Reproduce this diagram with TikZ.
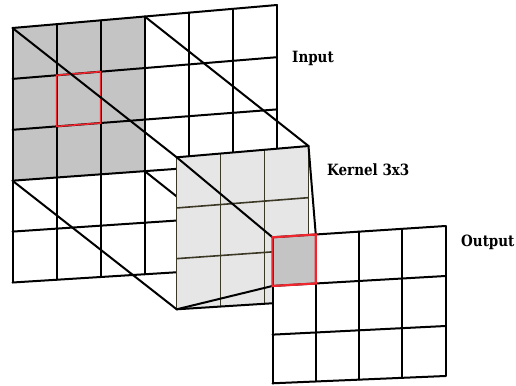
\documentclass[tikz,border=0pt]{standalone}
\usepackage{fontspec}
\newfontfamily\lblfont[FakeStretch=0.87]{DejaVu Serif}
\usetikzlibrary{calc}
\definecolor{windowgray}{HTML}{C4C4C4}
\definecolor{kernelfill}{HTML}{E6E6E6}
\definecolor{kernelline}{HTML}{3C3826}
\definecolor{cellred}{HTML}{F0262E}
\begin{document}
\begin{tikzpicture}[x=1pt,y=-1pt,
  gridline/.style={line width=2pt, draw=black, line cap=round},
  kline/.style={line width=1.2pt, draw=kernelline},
  proj/.style={line width=2pt, draw=black, line cap=round},
  redcell/.style={draw=cellred, line join=miter},
  lbl/.style={font=\lblfont\bfseries\fontsize{15.5}{15.5}\selectfont, anchor=base west, inner sep=0pt}]

\fill[white] (0,0) rectangle (516,385);
\useasboundingbox (0,0) rectangle (516,385);

% corner points of the three grids (slight perspective)
\coordinate (inTL) at (12.5,28);
\coordinate (inTR) at (277,5);
\coordinate (inBL) at (12.5,282.5);
\coordinate (inBR) at (277,266);

\coordinate (kTL) at (176.7,157.3);
\coordinate (kTR) at (308.5,146);
\coordinate (kBL) at (176.7,309.3);
\coordinate (kBR) at (308.5,301);

\coordinate (oTL) at (272.5,237.3);
\coordinate (oTR) at (445.5,226);
\coordinate (oBL) at (272.5,383.3);
\coordinate (oBR) at (445.5,376);

% lattice points: in-i-j (6x5), k-i-j (3x3), o-i-j (4x3)
\foreach \i in {0,...,6} {
  \coordinate (inT\i) at ($(inTL)!\i/6!(inTR)$);
  \coordinate (inB\i) at ($(inBL)!\i/6!(inBR)$);
  \foreach \j in {0,...,5} \coordinate (in-\i-\j) at ($(inT\i)!\j/5!(inB\i)$);
}
\foreach \i in {0,...,3} {
  \coordinate (kT\i) at ($(kTL)!\i/3!(kTR)$);
  \coordinate (kB\i) at ($(kBL)!\i/3!(kBR)$);
  \foreach \j in {0,...,3} \coordinate (k-\i-\j) at ($(kT\i)!\j/3!(kB\i)$);
}
\foreach \i in {0,...,4} {
  \coordinate (oT\i) at ($(oTL)!\i/4!(oTR)$);
  \coordinate (oB\i) at ($(oBL)!\i/4!(oBR)$);
  \foreach \j in {0,...,3} \coordinate (o-\i-\j) at ($(oT\i)!\j/3!(oB\i)$);
}

% input grid with the 3x3 receptive field shaded
\fill[windowgray] (in-0-0) -- (in-3-0) -- (in-3-3) -- (in-0-3) -- cycle;
\foreach \i in {0,...,6} \draw[gridline] (in-\i-0) -- (in-\i-5);
\foreach \j in {0,...,5} \draw[gridline] (in-0-\j) -- (in-6-\j);
\draw[redcell, line width=1.6pt] (in-1-1) -- (in-2-1) -- (in-2-2) -- (in-1-2) -- cycle;

% projection from the receptive field to the kernel
\draw[proj] (in-0-0) -- (k-0-0);
\draw[proj] (in-3-0) -- (k-3-0);
\draw[proj] (in-0-3) -- (k-0-3);
\draw[proj] (in-3-3) -- (k-3-3);

% kernel
\fill[kernelfill] (k-0-0) -- (k-3-0) -- (k-3-3) -- (k-0-3) -- cycle;
\foreach \i in {0,...,3} \draw[kline] (k-\i-0) -- (k-\i-3);
\foreach \j in {1,2} \draw[kline, line width=1.6pt] (k-0-\j) -- (k-3-\j);
\draw[gridline] (k-0-0) -- (k-3-0);
\draw[gridline] (k-0-3) -- (k-3-3);

% projection from the kernel to the output cell
\draw[proj] (k-0-0) -- (o-0-0);
\draw[proj] (k-3-0) -- (o-1-0);
\draw[proj] (k-0-3) -- (o-0-1);
\draw[proj] (k-3-3) -- (o-1-1);

% output grid
\fill[white] (o-0-0) -- (o-4-0) -- (o-4-3) -- (o-0-3) -- cycle;
\fill[windowgray] (o-0-0) -- (o-1-0) -- (o-1-1) -- (o-0-1) -- cycle;
\foreach \i in {0,...,4} \draw[gridline] (o-\i-0) -- (o-\i-3);
\foreach \j in {0,...,3} \draw[gridline] (o-0-\j) -- (o-4-\j);
\draw[redcell, line width=2.2pt] (o-0-0) -- (o-1-0) -- (o-1-1) -- (o-0-1) -- cycle;

% labels
\node[lbl] (input) at (292,62.5) {Input};
\node[lbl] (kernel) at (327,175.5) {Kernel 3x3};
\node[lbl] (output) at (461,246) {Output};
\end{tikzpicture}
\end{document}
